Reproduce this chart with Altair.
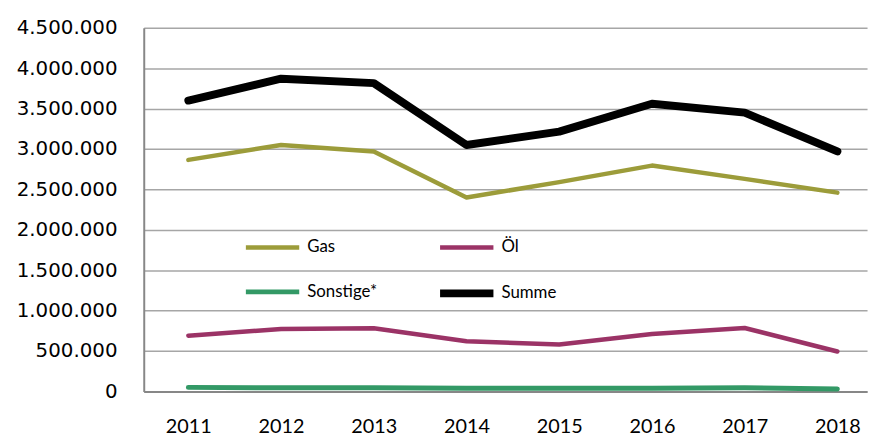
import altair as alt
import pandas as pd

years = [2011, 2012, 2013, 2014, 2015, 2016, 2017, 2018]
series = ["Gas", "Öl", "Sonstige*", "Summe"]
gas = [2865000, 3050000, 2970000, 2400000, 2590000, 2795000, 2630000, 2460000]
oel = [690000, 772000, 781000, 621000, 580000, 711000, 785000, 494000]
sonstige = [50000, 45000, 45000, 40000, 40000, 40000, 45000, 30000]
summe = [3600000, 3870000, 3815000, 3050000, 3215000, 3560000, 3450000, 2970000]
colors = ["#9c9c3a", "#9b3366", "#339966", "#000000"]
widths = [4.5, 4.5, 5, 8]
y_ticks = [0, 500000, 1000000, 1500000, 2000000, 2500000, 3000000, 3500000, 4000000, 4500000]

rows = []
for name, vals in zip(series, [gas, oel, sonstige, summe]):
    for yr, v in zip(years, vals):
        rows.append({"Jahr": yr, "Serie": name, "Wert": v})
df = pd.DataFrame(rows)

chart = alt.Chart(df).mark_line(strokeCap="round", strokeJoin="round").encode(
    x=alt.X("Jahr:Q",
            scale=alt.Scale(domain=[2010.519, 2018.32], nice=False, zero=False),
            axis=alt.Axis(values=years, format="d", title=None, grid=False,
                          ticks=False, labelFont="Lato", labelFontSize=20,
                          labelColor="#000000", labelPadding=25,
                          domainColor="#878787", domainWidth=2)),
    y=alt.Y("Wert:Q",
            scale=alt.Scale(domain=[0, 4500000], nice=False),
            axis=alt.Axis(values=y_ticks, title=None, ticks=False,
                          labelExpr="replace(replace(format(datum.value, ','), ',', '.'), ',', '.')",
                          labelFont="DejaVu Sans", labelFontSize=20, labelColor="#000000",
                          labelPadding=27, gridColor="#a6a6a6", gridWidth=1.6,
                          domainColor="#878787", domainWidth=2)),
    color=alt.Color("Serie:N", sort=series, scale=alt.Scale(domain=series, range=colors)),
    strokeWidth=alt.StrokeWidth("Serie:N", sort=series,
                                scale=alt.Scale(type="ordinal", domain=series, range=widths)),
).properties(
    width=730,
    height=367,
    autosize=alt.AutoSizeParams(type="none"),
    padding={"left": 137, "top": 18, "right": 5, "bottom": 44},
).configure_view(
    stroke=None
).configure_legend(
    orient="none",
    direction="horizontal",
    legendX=99,
    legendY=192,
    columns=2,
    title=None,
    symbolType="stroke",
    symbolSize=2900,
    labelFont="Lato",
    labelFontSize=17,
    labelColor="#000000",
    labelOffset=4,
    columnPadding=47,
    rowPadding=6,
    padding=0,
)

chart.save("out.html", embed_options={"renderer": "svg", "actions": False})
